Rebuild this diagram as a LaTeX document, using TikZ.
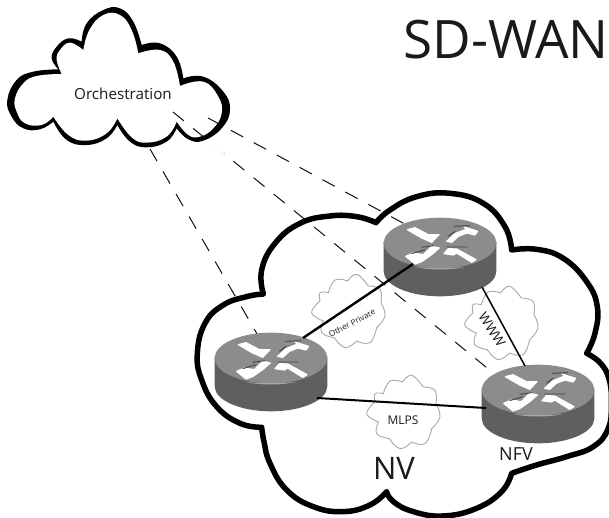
\documentclass[tikz,border=0pt]{standalone}
\usepackage{fontspec}
\setmainfont{Open Sans}
\usetikzlibrary{calc}
\definecolor{inkblack}{HTML}{111111}
\definecolor{rtop}{HTML}{8C8C8C}
\definecolor{rside}{HTML}{5F5F5F}
\definecolor{rhigh}{HTML}{A5A5A5}
\definecolor{cloudgray}{HTML}{A8A8A8}
\definecolor{labelgray}{HTML}{1A1A1A}
\tikzset{
  lobe/.style={smooth,tension=.75},
  dashlink/.style={draw=inkblack,line width=1pt,dash pattern=on 14pt off 12pt},
  solidlink/.style={draw=black,line width=#1},
  labeltext/.style={text=labelgray,inner sep=0pt},
  arrowshape/.style={fill=white,draw=white,line width=1.2pt,line join=round},
  smallcloud/.pic={
    \begin{scope}[x=.3333pt,y=.3333pt]
    \draw[draw=cloudgray,line width=.9pt,fill=white]
      plot[lobe] coordinates {(-62,55)(-42,93)(-4,90)}
      -- plot[lobe] coordinates {(-4,90)(23,110)(58,75)}
      -- plot[lobe] coordinates {(58,75)(93,65)(96,25)}
      -- plot[lobe] coordinates {(96,25)(108,-15)(83,-50)}
      -- plot[lobe] coordinates {(83,-50)(63,-95)(23,-90)}
      -- plot[lobe] coordinates {(23,-90)(-12,-110)(-44,-80)}
      -- plot[lobe] coordinates {(-44,-80)(-82,-65)(-77,-30)}
      -- plot[lobe] coordinates {(-77,-30)(-112,-5)(-87,30)}
      -- plot[lobe] coordinates {(-87,30)(-87,55)(-62,55)}
      -- cycle;
    \end{scope}
  },
  routerbody/.pic={
    \begin{scope}[x=.3333pt,y=.3333pt]
    \fill[rside] (-169,5) -- (-169,-85) arc[start angle=180,end angle=360,x radius=169,y radius=75] -- (169,5) -- cycle;
    \fill[rtop] (0,0) ellipse[x radius=169,y radius=76];
    \fill[rhigh] (-75,-72) .. controls (-30,-76) and (30,-76) .. (75,-72) .. controls (30,-82) and (-30,-82) .. (-75,-72);
    \path[arrowshape] (-98,40) -- (-75,46) -- (-35,25) -- (-3,25) -- (-25,2) -- (-55,15) -- cycle;
    \path[arrowshape] (20,5) -- (45,28) -- (80,42) -- (72,48) -- (113,35) -- (105,24) -- (80,30) -- (55,20) -- (35,2) -- cycle;
    \path[arrowshape] (-2,-15) -- (-25,-10) -- (-50,-35) -- (-80,-30) -- (-103,-40) -- (-75,-63) -- (-55,-56) -- (-25,-35) -- cycle;
    \path[arrowshape] (12,-32) -- (25,-17) -- (50,-18) -- (108,-50) -- (95,-58) -- (50,-30) -- (40,-36) -- cycle;
    \draw[draw=rside!70!black,line width=.9pt] (42,50) -- (90,52) (25,20) -- (45,35) (-55,-13) -- (-18,-8) (-85,-32) -- (-45,-20) (20,-12) -- (82,-12);
    \end{scope}
  }
}
\begin{document}
\begin{tikzpicture}[x=1pt,y=-1pt]
\useasboundingbox (0,0) rectangle (609,518);
\fill[white] (0,0) rectangle (609,518);

% large cloud
\begin{scope}[shift={(190,190)},x=.3333pt,y=-.3333pt]
\draw[draw=black,line width=5.5pt,fill=white,line join=round]
  plot[lobe] coordinates {(558,98)(600,60)(680,20)(780,10)(880,40)(945,110)(965,180)}
  -- plot[lobe] coordinates {(965,180)(1040,178)(1120,205)(1190,275)(1222,350)(1215,430)(1190,490)}
  -- plot[lobe] coordinates {(1190,490)(1232,520)(1258,570)(1264,640)(1255,715)(1210,770)(1130,800)(1040,825)(965,850)}
  -- plot[lobe] coordinates {(965,850)(935,905)(860,955)(760,978)(670,965)(610,935)(590,905)}
  -- plot[lobe] coordinates {(590,905)(540,945)(460,965)(370,950)(290,900)(240,820)(222,755)(215,712)}
  -- plot[lobe] coordinates {(215,712)(150,700)(80,650)(35,570)(22,490)(45,400)(100,345)(170,320)(220,312)}
  -- plot[lobe] coordinates {(220,312)(215,240)(255,160)(330,100)(420,78)(500,80)(558,98)}
  -- cycle;
\end{scope}

% orchestration cloud: outer and inner outlines give the uneven stroke
\begin{scope}[x=.3333pt,y=-.3333pt]
\fill[black]
  plot[lobe] coordinates {(245,125)(260,70)(310,30)(360,25)(400,65)(425,135)}
  -- plot[lobe] coordinates {(425,135)(480,130)(530,170)(550,235)}
  -- plot[lobe] coordinates {(550,235)(610,230)(670,275)(690,330)(665,385)(610,422)(565,418)(530,385)}
  -- plot[lobe] coordinates {(530,385)(500,425)(440,442)(390,425)(352,375)}
  -- plot[lobe] coordinates {(352,375)(320,415)(260,435)(200,420)(160,365)}
  -- plot[lobe] coordinates {(160,365)(120,388)(70,385)(35,350)(22,300)(50,240)(100,215)(175,208)}
  -- plot[lobe] coordinates {(175,208)(155,175)(170,140)(205,115)(245,125)}
  -- cycle;
\fill[white]
  plot[lobe] coordinates {(250,150)(268,90)(310,45)(360,45)(395,90)(415,160)}
  -- plot[lobe] coordinates {(415,160)(480,150)(520,185)(540,258)}
  -- plot[lobe] coordinates {(540,258)(610,245)(655,290)(665,340)(640,385)(600,410)(565,405)(530,365)}
  -- plot[lobe] coordinates {(530,365)(500,410)(440,428)(395,412)(352,355)}
  -- plot[lobe] coordinates {(352,355)(320,400)(260,422)(205,405)(160,350)}
  -- plot[lobe] coordinates {(160,350)(125,375)(75,370)(50,335)(45,295)(70,250)(110,228)(185,222)}
  -- plot[lobe] coordinates {(185,222)(170,180)(180,150)(210,128)(250,150)}
  -- cycle;
\end{scope}

\pic at (349,311) {smallcloud};
\pic at (502,323) {smallcloud};
\pic at (404,412) {smallcloud};

\node[labeltext,font=\fontsize{15.2}{15.2}\selectfont] (orch) at (123,94) {Orchestration};

\coordinate (r1) at (271,358);
\coordinate (r2) at (440,243);
\coordinate (r3) at (538,390);

% dashed links, orchestration to routers
\draw[dashlink] ($(orch)+(27,55)$) -- (r1);
\draw[dashlink] ($(orch)+(50,18)$) -- ($(r3)+(-46,-18)$);
\draw[dashlink] ($(orch)+(85,24)$) -- (r2);
\draw[white,line width=2pt] (213,144.5) -- (224,153.3);

\pic at (r1) {routerbody};
\pic at (r2) {routerbody};
\pic at (r3) {routerbody};

% solid links
\draw[solidlink=2.4pt] ($(r1)+(32,-20)$) -- ($(r2)+(-27,21)$);
\draw[solidlink=1.5pt] ($(r2)+(42,44)$) -- ($(r3)+(-13,-24)$);
\draw[solidlink=2pt] ($(r1)+(46,40)$) -- ($(r3)+(-52,18)$);

\node[labeltext,font=\fontsize{8.2}{8.2}\selectfont,rotate=28] (lblother) at (352,323) {Other Private};
\node[labeltext,font=\fontsize{13.5}{13.5}\selectfont,rotate=-57] (lblwww) at (492,330) {WWW};
\node[labeltext,font=\fontsize{12}{12}\selectfont] (lblmlps) at (403,420) {MLPS};
\node[labeltext,font=\fontsize{31}{31}\selectfont] (lblnv) at (394,468) {NV};
\node[labeltext,font=\fontsize{18}{18}\selectfont] (lblnfv) at (516,454) {NFV};
\node[labeltext,font=\fontsize{53}{53}\selectfont] (title) at (506,40) {SD-WAN};
\end{tikzpicture}
\end{document}
